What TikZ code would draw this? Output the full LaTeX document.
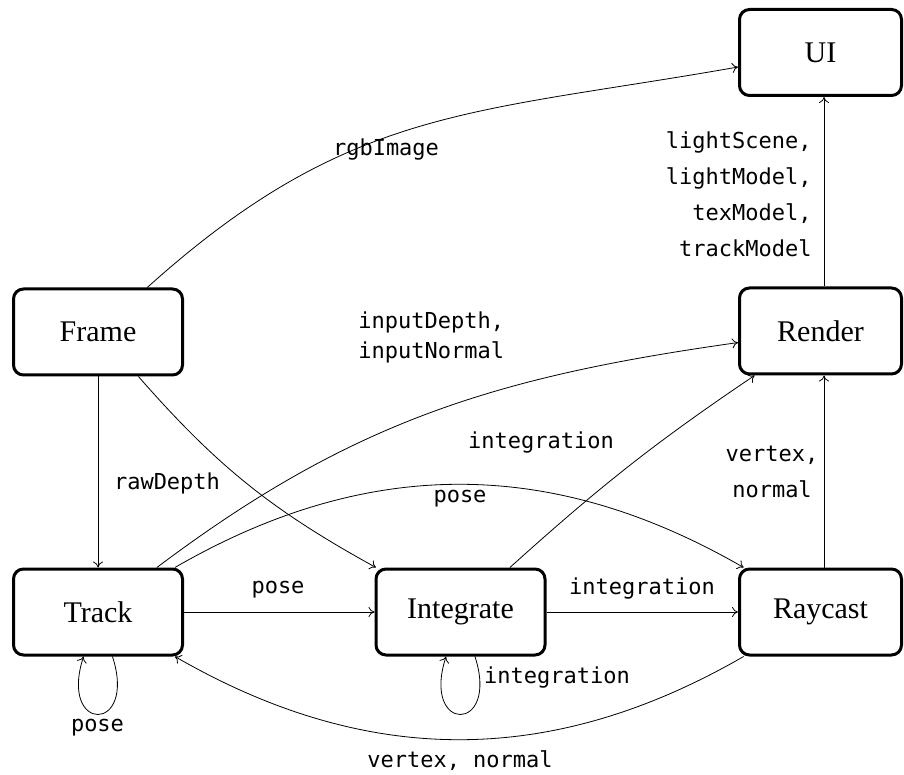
\documentclass[tikz,border=0pt]{standalone}
\usepackage{fontspec}
\setmainfont{Liberation Serif}
\newfontfamily\monofam{DejaVu Sans Mono}
\usetikzlibrary{arrows.meta}
\begin{document}
\begin{tikzpicture}[x=1pt,y=1pt,
  box/.style={draw, line width=3pt, rounded corners=10pt, minimum width=169pt,
    minimum height=86pt, inner sep=0pt, font=\fontsize{30}{36}\selectfont},
  rbox/.style={box, minimum width=162pt},
  conn/.style={-{To[length=6pt,width=10pt]}, line width=0.8pt},
  lbl/.style={font=\monofam\fontsize{22}{36}\selectfont, inner sep=0pt}
]
\useasboundingbox (0,0) rectangle (904,774);
% nodes
\node[rbox] (ui) at (820.5,721.5) {UI};
\node[rbox] (render) at (820.5,443) {Render};
\node[rbox] (raycast) at (820.5,162) {Raycast};
\node[box] (frame) at (98,442) {Frame};
\node[box] (track) at (98,162) {Track};
\node[box] (integrate) at (460.5,162) {Integrate};
% connectors
\draw[conn] (frame) to[out=42,in=190,looseness=1.1] (ui)
  node[lbl] (l1) at (386,624) {rgbImage};
\draw[conn] ([xshift=3.5pt]render.north) -- ([xshift=3.5pt]ui.south)
  node[lbl, align=right, anchor=east] (l2) at (812,580) {lightScene,\\lightModel,\\texModel,\\trackModel};
\draw[conn] (frame) -- (track)
  node[lbl] (l3) at (167,291) {rawDepth};
\draw[conn] (frame) to[bend right=10] (integrate);
\draw[conn] (track) to[out=37,in=188] (render)
  node[lbl, align=left, anchor=west, font=\monofam\fontsize{22}{30}\selectfont] (l4) at (358,437) {inputDepth,\\inputNormal};
\draw[conn] (track) to[bend left=30] (raycast)
  node[lbl] (l5) at (460,275) {pose};
\draw[conn] (integrate) to[out=42,in=214] (render)
  node[lbl] (l6) at (541,331) {integration};
\draw[conn] ([xshift=3.5pt]raycast.north) -- ([xshift=3.5pt]render.south)
  node[lbl, align=center] (l7) at (772,302) {vertex,\\normal};
\draw[conn] (track) -- (integrate)
  node[lbl] (l8) at (278,184) {pose};
\draw[conn] (integrate) -- (raycast)
  node[lbl] (l9) at (642,185) {integration};
\draw[conn] (raycast) to[bend left=30] (track)
  node[lbl] (l10) at (460,13) {vertex, normal};
\draw[conn] (track) to[out=-72,in=-108,looseness=7.2] (track)
  node[lbl] (l11) at (97.5,46) {pose};
\draw[conn] (integrate) to[out=-72,in=-108,looseness=7.2] (integrate)
  node[lbl] (l12) at (557,96) {integration};
\end{tikzpicture}
\end{document}
